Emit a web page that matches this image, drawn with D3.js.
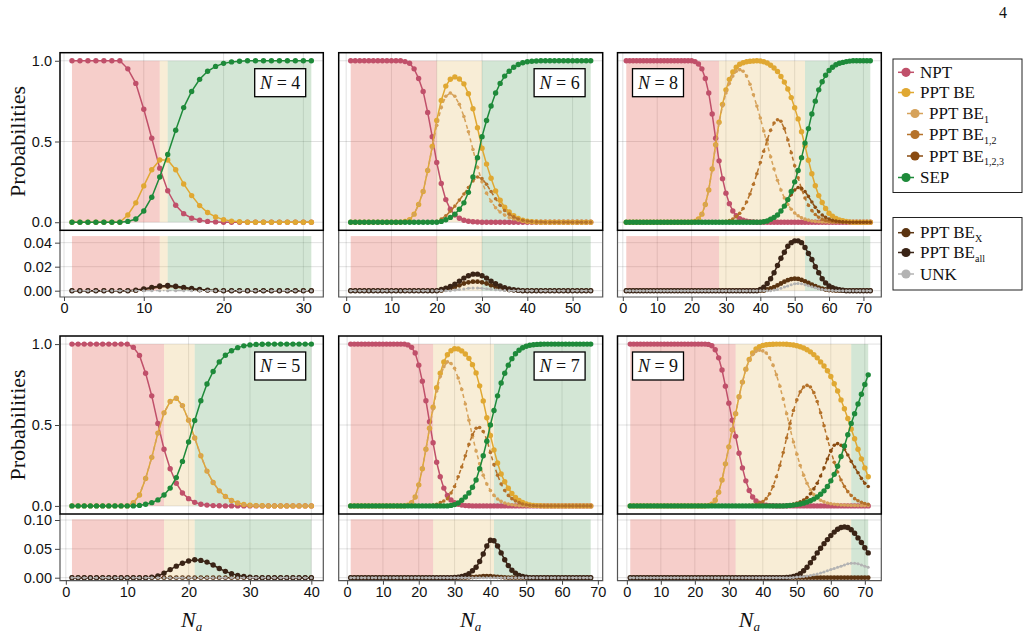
<!DOCTYPE html>
<html>
<head>
<meta charset="utf-8">
<title>Probabilities vs N_a</title>
<script src="https://d3js.org/d3.v7.min.js"></script>
<style>
  body { margin: 0; background: #fff; }
  .tick text { font-family: "Liberation Sans", Arial, sans-serif; font-size: 14.5px; fill: #111; }
</style>
</head>
<body>
<svg id="chart" width="1029" height="637"></svg>
<script>
// ---------------- data, index 0 is N_a = 1 ----------------

// N = 4, N_a = 1..31
const npt4 = [1,1,1,1,1,1,1,0.95,0.86,0.7,
  0.52,0.335,0.195,0.105,0.053,0.025,0.012,0.005,0.002,0,
  0,0,0,0,0,0,0,0,0,0,
  0];
const be4 = [0,0,0,0,0,0,0,0.045,0.12,0.225,
  0.325,0.385,0.385,0.325,0.237,0.165,0.103,0.06,0.033,0.016,
  0.007,0.003,0,0,0,0,0,0,0,0,
  0];
const sep4 = [0,0,0,0,0,0,0,0.005,0.02,0.07,
  0.155,0.28,0.42,0.57,0.71,0.81,0.885,0.935,0.965,0.984,
  0.993,0.997,1,1,1,1,1,1,1,1,
  1];
const bex4 = [0,0,0,0,0,0,0,0,0,0.001,
  0.002,0.003,0.0035,0.003,0.002,0.0012,0.0006,0.0003,0,0,
  0,0,0,0,0,0,0,0,0,0,
  0];
const beall4 = [0,0,0,0,0,0,0,0,0.0005,0.0015,
  0.0028,0.004,0.0043,0.0038,0.0028,0.0018,0.001,0.0005,0.0002,0,
  0,0,0,0,0,0,0,0,0,0,
  0];
const unk4 = [0,0,0,0,0,0,0,0,0,0,
  0,0,0,0,0,0,0,0,0,0,
  0,0,0,0,0,0,0,0,0,0,
  0];

// N = 6, N_a = 1..54
const npt6 = [1,1,1,1,1,1,1,1,1,1,
  1,1,0.995,0.985,0.95,0.89,0.81,0.68,0.53,0.37,
  0.24,0.14,0.08,0.045,0.025,0.012,0.006,0.003,0.001,0,
  0,0,0,0,0,0,0,0,0,0,
  0,0,0,0,0,0,0,0,0,0,
  0,0,0,0];
const be6 = [0,0,0,0,0,0,0,0,0,0,
  0,0,0.005,0.015,0.05,0.11,0.19,0.32,0.47,0.63,
  0.754,0.843,0.886,0.9,0.887,0.857,0.796,0.703,0.585,0.458,
  0.36,0.272,0.194,0.136,0.093,0.064,0.04,0.023,0.012,0.006,
  0.003,0.001,0,0,0,0,0,0,0,0,
  0,0,0,0];
const be1_6 = [0,0,0,0,0,0,0,0,0,0,
  0,0,0.005,0.015,0.05,0.11,0.19,0.32,0.46,0.6,
  0.71,0.78,0.8,0.78,0.73,0.655,0.56,0.45,0.34,0.25,
  0.18,0.13,0.09,0.063,0.044,0.03,0.02,0.012,0.007,0.004,
  0.002,0.001,0,0,0,0,0,0,0,0,
  0,0,0,0];
const be12_6 = [0,0,0,0,0,0,0,0,0,0,
  0,0,0,0,0,0,0,0,0,0.005,
  0.02,0.04,0.068,0.1,0.137,0.175,0.215,0.255,0.28,0.27,
  0.235,0.19,0.145,0.105,0.073,0.05,0.033,0.02,0.012,0.007,
  0.004,0.002,0.001,0,0,0,0,0,0,0,
  0,0,0,0];
const sep6 = [0,0,0,0,0,0,0,0,0,0,
  0,0,0,0,0,0,0,0,0,0,
  0.005,0.015,0.03,0.05,0.08,0.12,0.185,0.28,0.4,0.53,
  0.63,0.72,0.8,0.86,0.905,0.935,0.96,0.977,0.988,0.994,
  0.997,0.999,1,1,1,1,1,1,1,1,
  1,1,1,1];
const bex6 = [0,0,0,0,0,0,0,0,0,0,
  0,0,0,0,0,0,0,0,0,0,
  0,0.001,0.002,0.003,0.0045,0.006,0.007,0.0075,0.0075,0.007,
  0.006,0.0045,0.003,0.002,0.0012,0.0006,0.0003,0,0,0,
  0,0,0,0,0,0,0,0,0,0,
  0,0,0,0];
const beall6 = [0,0,0,0,0,0,0,0,0,0,
  0,0,0,0,0,0,0,0,0,0,
  0.001,0.002,0.0035,0.0055,0.008,0.0105,0.0125,0.0138,0.0138,0.0125,
  0.0105,0.008,0.0058,0.004,0.0025,0.0015,0.0008,0.0004,0,0,
  0,0,0,0,0,0,0,0,0,0,
  0,0,0,0];
const unk6 = [0,0,0,0,0,0,0,0,0,0,
  0,0,0,0,0,0,0,0,0,0,
  0,0,0,0.0005,0.001,0.0015,0.002,0.0022,0.0022,0.002,
  0.0016,0.0012,0.0008,0.0005,0.0002,0,0,0,0,0,
  0,0,0,0,0,0,0,0,0,0,
  0,0,0,0];

// N = 8, N_a = 1..72
const npt8 = [1,1,1,1,1,1,1,1,1,1,
  1,1,1,1,1,1,1,1,1,1,
  0.995,0.98,0.95,0.89,0.8,0.67,0.52,0.38,0.27,0.18,
  0.115,0.07,0.04,0.022,0.012,0.006,0.003,0.001,0,0,
  0,0,0,0,0,0,0,0,0,0,
  0,0,0,0,0,0,0,0,0,0,
  0,0,0,0,0,0,0,0,0,0,
  0,0];
const be8 = [0,0,0,0,0,0,0,0,0,0,
  0,0,0,0,0,0,0,0,0,0,
  0.005,0.02,0.05,0.11,0.2,0.33,0.48,0.62,0.73,0.82,
  0.885,0.93,0.96,0.978,0.988,0.994,0.997,0.999,1,0.999,
  0.994,0.986,0.972,0.955,0.934,0.903,0.868,0.825,0.772,0.709,
  0.64,0.56,0.473,0.384,0.3,0.226,0.165,0.122,0.085,0.056,
  0.038,0.024,0.014,0.009,0.005,0.002,0,0,0,0,
  0,0];
const be1_8 = [0,0,0,0,0,0,0,0,0,0,
  0,0,0,0,0,0,0,0,0,0,
  0.005,0.02,0.05,0.11,0.2,0.33,0.48,0.615,0.72,0.8,
  0.86,0.905,0.935,0.945,0.935,0.905,0.855,0.79,0.72,0.645,
  0.565,0.485,0.405,0.33,0.26,0.2,0.15,0.11,0.08,0.057,
  0.04,0.028,0.019,0.013,0.008,0.005,0.003,0.002,0.001,0,
  0,0,0,0,0,0,0,0,0,0,
  0,0];
const be12_8 = [0,0,0,0,0,0,0,0,0,0,
  0,0,0,0,0,0,0,0,0,0,
  0,0,0,0,0,0,0,0,0,0.005,
  0.01,0.02,0.035,0.055,0.085,0.125,0.175,0.235,0.3,0.37,
  0.44,0.51,0.57,0.615,0.635,0.625,0.58,0.51,0.43,0.35,
  0.275,0.205,0.15,0.105,0.072,0.048,0.031,0.019,0.011,0.006,
  0.003,0.002,0.001,0,0,0,0,0,0,0,
  0,0];
const be123_8 = [0,0,0,0,0,0,0,0,0,0,
  0,0,0,0,0,0,0,0,0,0,
  0,0,0,0,0,0,0,0,0,0,
  0,0,0,0,0,0,0,0,0,0.002,
  0.005,0.01,0.018,0.03,0.045,0.07,0.1,0.135,0.17,0.2,
  0.215,0.21,0.19,0.16,0.125,0.092,0.065,0.045,0.03,0.02,
  0.012,0.007,0.004,0.002,0.001,0,0,0,0,0,
  0,0];
const sep8 = [0,0,0,0,0,0,0,0,0,0,
  0,0,0,0,0,0,0,0,0,0,
  0,0,0,0,0,0,0,0,0,0,
  0,0,0,0,0,0,0,0,0,0,
  0.003,0.008,0.018,0.03,0.045,0.07,0.1,0.14,0.19,0.25,
  0.32,0.4,0.49,0.58,0.67,0.75,0.82,0.87,0.91,0.94,
  0.96,0.975,0.985,0.99,0.995,0.998,1,1,1,1,
  1,1];
const bex8 = [0,0,0,0,0,0,0,0,0,0,
  0,0,0,0,0,0,0,0,0,0,
  0,0,0,0,0,0,0,0,0,0,
  0,0,0,0,0,0,0,0,0,0,
  0,0.001,0.002,0.003,0.0045,0.006,0.0075,0.0088,0.0097,0.01,
  0.0098,0.009,0.0078,0.0064,0.005,0.0037,0.0026,0.0017,0.001,0.0006,
  0.0003,0,0,0,0,0,0,0,0,0,
  0,0];
const beall8 = [0,0,0,0,0,0,0,0,0,0,
  0,0,0,0,0,0,0,0,0,0,
  0,0,0,0,0,0,0,0,0,0,
  0,0,0,0,0,0,0,0,0,0.001,
  0.003,0.006,0.01,0.015,0.021,0.027,0.032,0.037,0.04,0.0415,
  0.0415,0.04,0.036,0.031,0.026,0.02,0.015,0.01,0.0065,0.004,
  0.0025,0.0015,0.0008,0.0004,0,0,0,0,0,0,
  0,0];
const unk8 = [0,0,0,0,0,0,0,0,0,0,
  0,0,0,0,0,0,0,0,0,0,
  0,0,0,0,0,0,0,0,0,0,
  0,0,0,0,0,0,0,0,0,0,
  0,0,0,0.0005,0.001,0.002,0.003,0.004,0.005,0.0058,
  0.006,0.0058,0.005,0.0042,0.0033,0.0025,0.0017,0.0011,0.0007,0.0004,
  0.0002,0,0,0,0,0,0,0,0,0,
  0,0];

// N = 5, N_a = 1..40
const npt5 = [1,1,1,1,1,1,1,1,1,1,
  0.98,0.93,0.82,0.68,0.51,0.35,0.23,0.14,0.08,0.045,
  0.022,0.01,0.005,0.002,0.001,0,0,0,0,0,
  0,0,0,0,0,0,0,0,0,0];
const be5 = [0,0,0,0,0,0,0,0,0,0,
  0.02,0.067,0.17,0.3,0.45,0.575,0.645,0.665,0.62,0.53,
  0.42,0.31,0.215,0.145,0.093,0.058,0.034,0.018,0.009,0.004,
  0.002,0.001,0,0,0,0,0,0,0,0];
const be1_5 = [0,0,0,0,0,0,0,0,0,0,
  0.02,0.067,0.17,0.3,0.45,0.575,0.645,0.665,0.62,0.53,
  0.42,0.31,0.215,0.145,0.093,0.058,0.034,0.018,0.009,0.004,
  0.002,0.001,0,0,0,0,0,0,0,0];
const sep5 = [0,0,0,0,0,0,0,0,0,0,
  0,0.003,0.01,0.02,0.037,0.067,0.11,0.175,0.275,0.395,
  0.528,0.65,0.753,0.831,0.89,0.931,0.959,0.978,0.989,0.995,
  0.998,0.999,1,1,1,1,1,1,1,1];
const bex5 = [0,0,0,0,0,0,0,0,0,0,
  0,0,0,0,0,0,0,0,0,0,
  0,0,0,0,0,0,0,0,0,0,
  0,0,0,0,0,0,0,0,0,0];
const beall5 = [0,0,0,0,0,0,0,0,0,0,
  0,0,0,0.001,0.003,0.008,0.014,0.02,0.025,0.029,
  0.031,0.03,0.027,0.022,0.016,0.011,0.007,0.004,0.002,0.001,
  0,0,0,0,0,0,0,0,0,0];
const unk5 = [0,0,0,0,0,0,0,0,0,0,
  0,0,0,0,0,0,0,0,0,0,
  0,0,0,0,0,0,0,0,0,0,
  0,0,0,0,0,0,0,0,0,0];

// N = 7, N_a = 1..68
const npt7 = [1,1,1,1,1,1,1,1,1,1,
  1,1,1,1,1,1,0.995,0.98,0.945,0.87,
  0.77,0.65,0.52,0.39,0.27,0.18,0.11,0.065,0.037,0.02,
  0.01,0.005,0.002,0.001,0,0,0,0,0,0,
  0,0,0,0,0,0,0,0,0,0,
  0,0,0,0,0,0,0,0,0,0,
  0,0,0,0,0,0,0,0];
const be7 = [0,0,0,0,0,0,0,0,0,0,
  0,0,0,0,0,0,0.005,0.02,0.055,0.13,
  0.23,0.35,0.48,0.61,0.73,0.82,0.89,0.934,0.959,0.971,
  0.97,0.958,0.939,0.912,0.873,0.822,0.742,0.649,0.545,0.435,
  0.346,0.265,0.197,0.149,0.109,0.077,0.052,0.034,0.021,0.012,
  0.006,0.003,0.002,0.001,0,0,0,0,0,0,
  0,0,0,0,0,0,0,0];
const be1_7 = [0,0,0,0,0,0,0,0,0,0,
  0,0,0,0,0,0,0.005,0.02,0.055,0.13,
  0.23,0.35,0.48,0.6,0.71,0.8,0.86,0.89,0.88,0.85,
  0.79,0.72,0.63,0.53,0.43,0.34,0.26,0.19,0.135,0.095,
  0.065,0.043,0.028,0.018,0.011,0.007,0.004,0.002,0.001,0,
  0,0,0,0,0,0,0,0,0,0,
  0,0,0,0,0,0,0,0];
const be12_7 = [0,0,0,0,0,0,0,0,0,0,
  0,0,0,0,0,0,0,0,0,0,
  0,0,0,0.005,0.01,0.02,0.03,0.045,0.08,0.12,
  0.18,0.24,0.31,0.38,0.44,0.48,0.485,0.46,0.41,0.33,
  0.255,0.19,0.135,0.095,0.065,0.045,0.03,0.02,0.012,0.007,
  0.004,0.002,0.001,0,0,0,0,0,0,0,
  0,0,0,0,0,0,0,0];
const sep7 = [0,0,0,0,0,0,0,0,0,0,
  0,0,0,0,0,0,0,0,0,0,
  0,0,0,0,0,0,0,0,0.003,0.008,
  0.018,0.035,0.055,0.08,0.115,0.16,0.23,0.31,0.4,0.5,
  0.59,0.68,0.76,0.82,0.87,0.91,0.94,0.962,0.977,0.987,
  0.993,0.996,0.998,0.999,1,1,1,1,1,1,
  1,1,1,1,1,1,1,1];
const bex7 = [0,0,0,0,0,0,0,0,0,0,
  0,0,0,0,0,0,0,0,0,0,
  0,0,0,0,0,0,0,0,0,0,
  0,0,0,0.0005,0.001,0.0015,0.002,0.0025,0.0025,0.0025,
  0.002,0.0015,0.001,0.0005,0,0,0,0,0,0,
  0,0,0,0,0,0,0,0,0,0,
  0,0,0,0,0,0,0,0];
const beall7 = [0,0,0,0,0,0,0,0,0,0,
  0,0,0,0,0,0,0,0,0,0,
  0,0,0,0,0,0,0,0,0,0.0005,
  0.001,0.002,0.004,0.007,0.012,0.018,0.028,0.041,0.055,0.065,
  0.064,0.055,0.043,0.031,0.021,0.013,0.008,0.004,0.002,0.001,
  0,0,0,0,0,0,0,0,0,0,
  0,0,0,0,0,0,0,0];
const unk7 = [0,0,0,0,0,0,0,0,0,0,
  0,0,0,0,0,0,0,0,0,0,
  0,0,0,0,0,0,0,0,0,0,
  0,0,0,0,0,0,0,0,0,0,
  0,0,0,0,0,0,0,0,0,0,
  0,0,0,0,0,0,0,0,0,0,
  0,0,0,0,0,0,0,0];

// N = 9, N_a = 1..71
const npt9 = [1,1,1,1,1,1,1,1,1,1,
  1,1,1,1,1,1,1,1,1,1,
  1,1,1,0.998,0.99,0.965,0.915,0.84,0.74,0.635,
  0.53,0.43,0.325,0.235,0.155,0.095,0.055,0.03,0.016,0.008,
  0.004,0.002,0.001,0,0,0,0,0,0,0,
  0,0,0,0,0,0,0,0,0,0,
  0,0,0,0,0,0,0,0,0,0,
  0];
const be9 = [0,0,0,0,0,0,0,0,0,0,
  0,0,0,0,0,0,0,0,0,0,
  0,0,0,0.002,0.01,0.035,0.085,0.16,0.26,0.365,
  0.47,0.57,0.675,0.765,0.845,0.905,0.945,0.97,0.984,0.992,
  0.996,0.998,0.999,1,1,1,0.999,0.997,0.994,0.99,
  0.984,0.976,0.965,0.952,0.935,0.915,0.89,0.865,0.835,0.8,
  0.755,0.71,0.655,0.6,0.54,0.475,0.415,0.35,0.29,0.235,
  0.18];
const be1_9 = [0,0,0,0,0,0,0,0,0,0,
  0,0,0,0,0,0,0,0,0,0,
  0,0,0,0.002,0.01,0.035,0.085,0.16,0.26,0.365,
  0.47,0.57,0.675,0.765,0.845,0.9,0.935,0.955,0.962,0.958,
  0.945,0.915,0.87,0.81,0.74,0.66,0.57,0.48,0.395,0.32,
  0.25,0.19,0.14,0.1,0.07,0.05,0.035,0.025,0.018,0.013,
  0.01,0.008,0.006,0.005,0.004,0.003,0.003,0.002,0.002,0.002,
  0.002];
const be12_9 = [0,0,0,0,0,0,0,0,0,0,
  0,0,0,0,0,0,0,0,0,0,
  0,0,0,0,0,0,0,0,0,0,
  0,0,0,0,0,0.003,0.006,0.01,0.017,0.027,
  0.045,0.075,0.12,0.18,0.25,0.33,0.42,0.51,0.59,0.655,
  0.705,0.735,0.745,0.735,0.7,0.645,0.575,0.495,0.415,0.34,
  0.27,0.21,0.16,0.12,0.088,0.064,0.045,0.032,0.022,0.015,
  0.01];
const be123_9 = [0,0,0,0,0,0,0,0,0,0,
  0,0,0,0,0,0,0,0,0,0,
  0,0,0,0,0,0,0,0,0,0,
  0,0,0,0,0,0,0,0,0,0,
  0,0,0,0,0,0.002,0.004,0.007,0.011,0.017,
  0.025,0.036,0.052,0.075,0.105,0.14,0.185,0.235,0.29,0.34,
  0.375,0.385,0.375,0.35,0.315,0.275,0.24,0.205,0.17,0.14,
  0.12];
const sep9 = [0,0,0,0,0,0,0,0,0,0,
  0,0,0,0,0,0,0,0,0,0,
  0,0,0,0,0,0,0,0,0,0,
  0,0,0,0,0,0,0,0,0,0,
  0,0,0,0,0,0,0.001,0.003,0.005,0.008,
  0.012,0.017,0.024,0.032,0.042,0.055,0.072,0.093,0.12,0.155,
  0.195,0.245,0.305,0.37,0.44,0.51,0.57,0.63,0.69,0.75,
  0.81];
const bex9 = [0,0,0,0,0,0,0,0,0,0,
  0,0,0,0,0,0,0,0,0,0,
  0,0,0,0,0,0,0,0,0,0,
  0,0,0,0,0,0,0,0,0,0,
  0,0,0,0,0,0,0,0,0,0,
  0,0,0,0,0,0,0,0,0,0,
  0,0,0,0,0,0,0,0,0,0,
  0];
const beall9 = [0,0,0,0,0,0,0,0,0,0,
  0,0,0,0,0,0,0,0,0,0,
  0,0,0,0,0,0,0,0,0,0,
  0,0,0,0,0,0,0,0,0,0,
  0,0,0,0,0,0,0.0005,0.001,0.002,0.004,
  0.007,0.012,0.018,0.026,0.034,0.043,0.051,0.059,0.066,0.073,
  0.079,0.084,0.087,0.088,0.087,0.083,0.077,0.069,0.061,0.052,
  0.043];
const unk9 = [0,0,0,0,0,0,0,0,0,0,
  0,0,0,0,0,0,0,0,0,0,
  0,0,0,0,0,0,0,0,0,0,
  0,0,0,0,0,0,0,0,0,0,
  0,0,0,0,0,0,0,0,0.0005,0.001,
  0.0015,0.002,0.003,0.004,0.005,0.0065,0.008,0.01,0.012,0.014,
  0.016,0.018,0.02,0.022,0.024,0.025,0.025,0.024,0.022,0.02,
  0.018];

// region boundaries (N_a where NPT region ends / SEP region starts), order N = 4,6,8,5,7,9
const panelN = [4, 6, 8, 5, 7, 9];
const nptEnd = [12, 20, 28, 16, 24, 32];
const sepStart = [13, 30, 53, 21, 41, 66];

// tick labels
const xTicks4 = [0, 10, 20, 30];
const xTicks5 = [0, 10, 20, 30, 40];
const xTicks6 = [0, 10, 20, 30, 40, 50];
const xTicks70 = [0, 10, 20, 30, 40, 50, 60, 70];
const yTicksTop = [0, 0.5, 1];
const yTicksBot1 = [0, 0.02, 0.04];
const yTicksBot2 = [0, 0.05, 0.1];

// legend
const legendLabels1 = ["NPT", "PPT BE", "PPT BE", "PPT BE", "PPT BE", "SEP"];
const legendSubs1 = ["", "", "1", "1,2", "1,2,3", ""];
const legendKeys1 = ["npt", "be", "be1", "be12", "be123", "sep"];
const legendLabels2 = ["PPT BE", "PPT BE", "UNK"];
const legendSubs2 = ["X", "all", ""];
const legendKeys2 = ["bex", "beall", "unk"];

// ---------------- styles ----------------
const SERIF = "Liberation Serif, DejaVu Serif, serif";
const styles = {
  npt:   { color: "#c0506a", w: 1.5, r: 2.7 },
  be:    { color: "#e0a832", w: 1.5, r: 2.7 },
  be1:   { color: "#d6a25a", w: 1.5, r: 1.8, dash: "4,3" },
  be12:  { color: "#b5722a", w: 1.5, r: 1.8, dash: "4,3" },
  be123: { color: "#8a4b10", w: 1.5, r: 1.8, dash: "4,3" },
  sep:   { color: "#1e8a3a", w: 1.5, r: 2.7 },
  bex:   { color: "#5b3411", w: 1.5, r: 2.4 },
  beall: { color: "#3a2416", w: 1.5, r: 2.7 },
  unk:   { color: "#b3b3b3", w: 1.3, r: 1.5, dash: "5,2,1.5,2" }
};
const shadeColors = ["rgba(226,92,80,0.3)", "rgba(232,196,120,0.3)", "rgba(110,172,115,0.3)"];

// ---------------- layout ----------------
const svg = d3.select("#chart");
const colX = [[60, 323.3], [338.7, 602.7], [617.5, 881.3]];
const rowY = [{ top: 52.7, mid: 230.3, bot: 297 }, { top: 336, mid: 514, bot: 580.7 }];
const botDomain = [[-0.00525, 0.0503], [-0.0052, 0.1104]];
const botShadeTop = [0.0455, 0.101];

const panels = [
  { i: 0, col: 0, row: 0, xDom: [-0.5, 32.5], xTicks: xTicks4, labelSide: "right",
    top: { npt: npt4, be: be4, sep: sep4 }, bot: { bex: bex4, beall: beall4, unk: unk4 } },
  { i: 1, col: 1, row: 0, xDom: [-1.65, 56.65], xTicks: xTicks6, labelSide: "right",
    top: { npt: npt6, be: be6, be1: be1_6, be12: be12_6, sep: sep6 }, bot: { bex: bex6, beall: beall6, unk: unk6 } },
  { i: 2, col: 2, row: 0, xDom: [-1.55, 75.2], xTicks: xTicks70, labelSide: "left",
    top: { npt: npt8, be: be8, be1: be1_8, be12: be12_8, be123: be123_8, sep: sep8 }, bot: { bex: bex8, beall: beall8, unk: unk8 } },
  { i: 3, col: 0, row: 1, xDom: [-0.95, 41.95], xTicks: xTicks5, labelSide: "right",
    top: { npt: npt5, be: be5, be1: be1_5, sep: sep5 }, bot: { bex: bex5, beall: beall5, unk: unk5 } },
  { i: 4, col: 1, row: 1, xDom: [-2.35, 71.35], xTicks: xTicks70, labelSide: "right",
    top: { npt: npt7, be: be7, be1: be1_7, be12: be12_7, sep: sep7 }, bot: { bex: bex7, beall: beall7, unk: unk7 } },
  { i: 5, col: 2, row: 1, xDom: [-2.75, 74.85], xTicks: xTicks70, labelSide: "left",
    top: { npt: npt9, be: be9, be1: be1_9, be12: be12_9, be123: be123_9, sep: sep9 }, bot: { bex: bex9, beall: beall9, unk: unk9 } }
];

function serifText(sel) {
  return sel.append("text").attr("font-family", SERIF).attr("fill", "#111");
}

function drawSeries(g, xs, ys, vals, st) {
  const line = d3.line().x((d, i) => xs(i + 1)).y(d => ys(d));
  g.append("path")
    .attr("d", line(vals))
    .attr("fill", "none")
    .attr("stroke", st.color)
    .attr("stroke-width", st.w)
    .attr("stroke-dasharray", st.dash || null);
  g.append("g").selectAll("circle")
    .data(vals)
    .join("circle")
    .attr("cx", (d, i) => xs(i + 1))
    .attr("cy", d => ys(d))
    .attr("r", st.r)
    .attr("fill", st.color);
}

function drawShading(g, xs, y0, y1, p, nMax) {
  const edges = [1, nptEnd[p.i], sepStart[p.i], nMax];
  for (let k = 0; k < 3; k++) {
    g.append("rect")
      .attr("x", xs(edges[k]))
      .attr("width", xs(edges[k + 1]) - xs(edges[k]))
      .attr("y", y1)
      .attr("height", y0 - y1)
      .attr("fill", shadeColors[k]);
  }
}

function drawGrid(g, xs, ys, xTicks, yTicks, x0, x1, yA, yB) {
  xTicks.forEach(t => {
    g.append("line").attr("x1", xs(t)).attr("x2", xs(t)).attr("y1", yA).attr("y2", yB)
      .attr("stroke", "rgba(0,0,0,0.12)").attr("stroke-width", 1);
  });
  yTicks.forEach(t => {
    g.append("line").attr("x1", x0).attr("x2", x1).attr("y1", ys(t)).attr("y2", ys(t))
      .attr("stroke", "rgba(0,0,0,0.12)").attr("stroke-width", 1);
  });
}

panels.forEach(p => {
  const [x0, x1] = colX[p.col];
  const r = rowY[p.row];
  const nMax = p.top.npt.length;
  const x = d3.scaleLinear().domain(p.xDom).range([x0, x1]);
  const yTop = d3.scaleLinear().domain([-0.05, 1.05]).range([r.mid, r.top]);
  const yBot = d3.scaleLinear().domain(botDomain[p.row]).range([r.bot, r.mid]);
  const yBotTicks = p.row === 0 ? yTicksBot1 : yTicksBot2;

  const g = svg.append("g");

  // top subplot
  drawGrid(g, x, yTop, p.xTicks, yTicksTop, x0, x1, r.top, r.mid);
  drawShading(g, x, yTop(0), yTop(1), p, nMax);
  ["npt", "be", "be1", "be12", "be123", "sep"].forEach(k => {
    if (p.top[k]) drawSeries(g, x, yTop, p.top[k], styles[k]);
  });

  // bottom subplot
  drawGrid(g, x, yBot, p.xTicks, yBotTicks, x0, x1, r.mid, r.bot);
  drawShading(g, x, yBot(0), yBot(botShadeTop[p.row]), p, nMax);
  ["bex", "beall", "unk"].forEach(k => {
    drawSeries(g, x, yBot, p.bot[k], styles[k]);
  });

  // frames
  g.append("path")
    .attr("d", `M${x0},${r.mid} V${r.bot} H${x1} V${r.mid}`)
    .attr("fill", "none").attr("stroke", "#555").attr("stroke-width", 1.2);
  g.append("rect")
    .attr("x", x0).attr("y", r.top).attr("width", x1 - x0).attr("height", r.mid - r.top)
    .attr("fill", "none").attr("stroke", "#000").attr("stroke-width", 1.5);

  // x axis
  const xAxis = d3.axisBottom(x).tickValues(p.xTicks).tickFormat(d3.format("d")).tickSize(4).tickPadding(2);
  const ax = g.append("g").attr("transform", `translate(0,${r.bot})`).call(xAxis);
  ax.select(".domain").remove();
  ax.selectAll(".tick line").attr("stroke", "#444");

  // y axes (first column only)
  if (p.col === 0) {
    const ayTop = g.append("g").attr("transform", `translate(${x0},0)`)
      .call(d3.axisLeft(yTop).tickValues(yTicksTop).tickFormat(d3.format(".1f")).tickSize(5).tickPadding(3));
    const ayBot = g.append("g").attr("transform", `translate(${x0},0)`)
      .call(d3.axisLeft(yBot).tickValues(yBotTicks).tickFormat(d3.format(".2f")).tickSize(5).tickPadding(3));
    [ayTop, ayBot].forEach(a => {
      a.select(".domain").remove();
      a.selectAll(".tick line").attr("stroke", "#444");
    });

    serifText(svg)
      .attr("transform", `translate(17,${(r.top + r.mid) / 2}) rotate(-90)`)
      .attr("text-anchor", "middle")
      .attr("dominant-baseline", "central")
      .style("font-size", "22px")
      .text("Probabilities");
  }

  // N = .. label box
  const bw = 51, bh = 28;
  const bx = p.labelSide === "right" ? x1 - 17.6 - bw : x0 + 15;
  const by = r.top + 16;
  g.append("rect").attr("x", bx).attr("y", by).attr("width", bw).attr("height", bh)
    .attr("fill", "#fff").attr("stroke", "#000").attr("stroke-width", 1.3);
  const t = serifText(g)
    .attr("x", bx + bw / 2).attr("y", by + bh / 2 + 6)
    .attr("text-anchor", "middle").style("font-size", "18px");
  t.append("tspan").style("font-style", "italic").text("N");
  t.append("tspan").text(" = " + panelN[p.i]);

  // N_a label on the bottom row
  if (p.row === 1) {
    const lt = serifText(svg)
      .attr("x", (x0 + x1) / 2).attr("y", 627)
      .attr("text-anchor", "middle").style("font-size", "22px").style("font-style", "italic");
    lt.append("tspan").text("N");
    lt.append("tspan").attr("dy", 4).style("font-size", "13px").text("a");
  }
});

// ---------------- legends ----------------
function drawLegend(box, labels, subs, keys, ys, indents) {
  svg.append("rect").attr("x", box[0]).attr("y", box[1]).attr("width", box[2]).attr("height", box[3])
    .attr("fill", "#fff").attr("stroke", "#222").attr("stroke-width", 1);
  labels.forEach((lab, k) => {
    const st = styles[keys[k]];
    const mx = indents[k] ? 915 : 906;
    const y = ys[k];
    svg.append("line").attr("x1", mx - 8).attr("x2", mx + 8).attr("y1", y).attr("y2", y)
      .attr("stroke", st.color).attr("stroke-width", 1.5);
    svg.append("circle").attr("cx", mx).attr("cy", y).attr("r", 4.6).attr("fill", st.color);
    const tx = serifText(svg)
      .attr("x", mx + 14).attr("y", y + 5.5).style("font-size", "17px");
    tx.append("tspan").text(lab);
    if (subs[k]) tx.append("tspan").attr("dy", 3.5).style("font-size", "10px").text(subs[k]);
  });
}
drawLegend([893, 59, 129, 133.5], legendLabels1, legendSubs1, legendKeys1,
  [72.3, 92.5, 113.5, 134.5, 156, 177.5], [false, false, true, true, true, false]);
drawLegend([893, 217.5, 129, 72.5], legendLabels2, legendSubs2, legendKeys2,
  [232.7, 252.5, 274], [false, false, false]);

// page number
serifText(svg).attr("x", 1003).attr("y", 18)
  .attr("text-anchor", "middle").style("font-size", "16px").text("4");
</script>
</body>
</html>
